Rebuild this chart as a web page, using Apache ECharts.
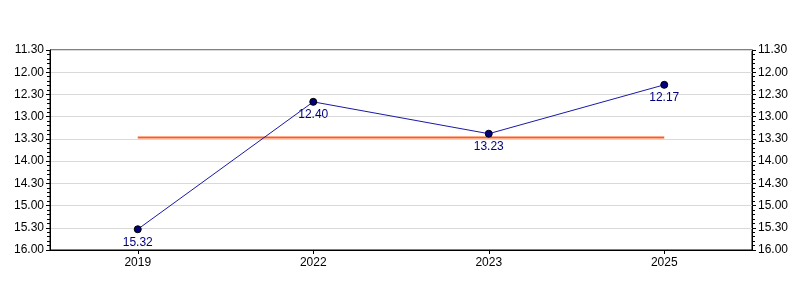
<!DOCTYPE html>
<html>
<head>
<meta charset="utf-8">
<script src="https://cdn.jsdelivr.net/npm/echarts@6/dist/echarts.min.js"></script>
<style>html,body{margin:0;padding:0;background:#fff}#c{width:800px;height:300px}</style>
</head>
<body>
<div id="c"></div>
<script>
// Categories (years)
var categories = ['2019', '2022', '2023', '2025'];
// Times in seconds (min.sec shown as 15.32 = 15 min 32 s)
var timesSec = [932, 760, 803, 737];
// Average line value in seconds (13.28)
var averageSec = [808, 808, 808, 808];
// Axis range in seconds: 11.30 .. 16.00, step 0.30
var axisMin = 690, axisMax = 960, axisStep = 30;

function fmt(v) {
  var m = Math.floor(v / 60), s = Math.round(v - m * 60);
  return m + '.' + (s < 10 ? '0' : '') + s;
}

var font = 'Liberation Sans, Arial, sans-serif';
var yCommon = {
  type: 'value', inverse: true, min: axisMin, max: axisMax, interval: axisStep,
  axisLine: { show: true, lineStyle: { color: '#000', width: 1 } },
  axisTick: { show: true, length: 4, lineStyle: { color: '#000' } },
  minorTick: { show: true, splitNumber: 5, length: 3, lineStyle: { color: '#000' } },
  axisLabel: { formatter: fmt, color: '#000', fontFamily: font, fontSize: 12, margin: 6 },
  splitLine: { show: true, lineStyle: { color: '#d9d9d9', width: 1 } }
};

var chart = echarts.init(document.getElementById('c'), null, { renderer: 'canvas' });
chart.setOption({
  animation: false,
  backgroundColor: '#fff',
  grid: { left: 50, right: 48, top: 50, bottom: 50, show: true, borderColor: '#000', borderWidth: 1, backgroundColor: 'transparent' },
  xAxis: {
    type: 'category', data: categories, boundaryGap: true,
    axisLine: { show: true, lineStyle: { color: '#000' } },
    axisTick: { show: true, alignWithLabel: true, length: 4, lineStyle: { color: '#000' } },
    axisLabel: { color: '#000', fontFamily: font, fontSize: 12, margin: 7 },
    splitLine: { show: false }
  },
  yAxis: [
    Object.assign({}, yCommon, { position: 'left' }),
    Object.assign({}, yCommon, { position: 'right', splitLine: { show: false } })
  ],
  series: [
    {
      type: 'line', data: averageSec, yAxisIndex: 0, symbol: 'none', silent: true,
      lineStyle: { color: '#ff5a1a', width: 2 }, z: 2
    },
    {
      type: 'line', data: timesSec, yAxisIndex: 0,
      symbol: 'circle', symbolSize: 7,
      itemStyle: { color: '#000080', borderColor: '#000', borderWidth: 1 },
      lineStyle: { color: '#1a1aa6', width: 1 },
      label: { show: true, position: 'bottom', distance: 3, formatter: function (p) { return fmt(p.value); },
               color: '#000080', fontFamily: font, fontSize: 12 },
      z: 3
    }
  ]
});
</script>
</body>
</html>
